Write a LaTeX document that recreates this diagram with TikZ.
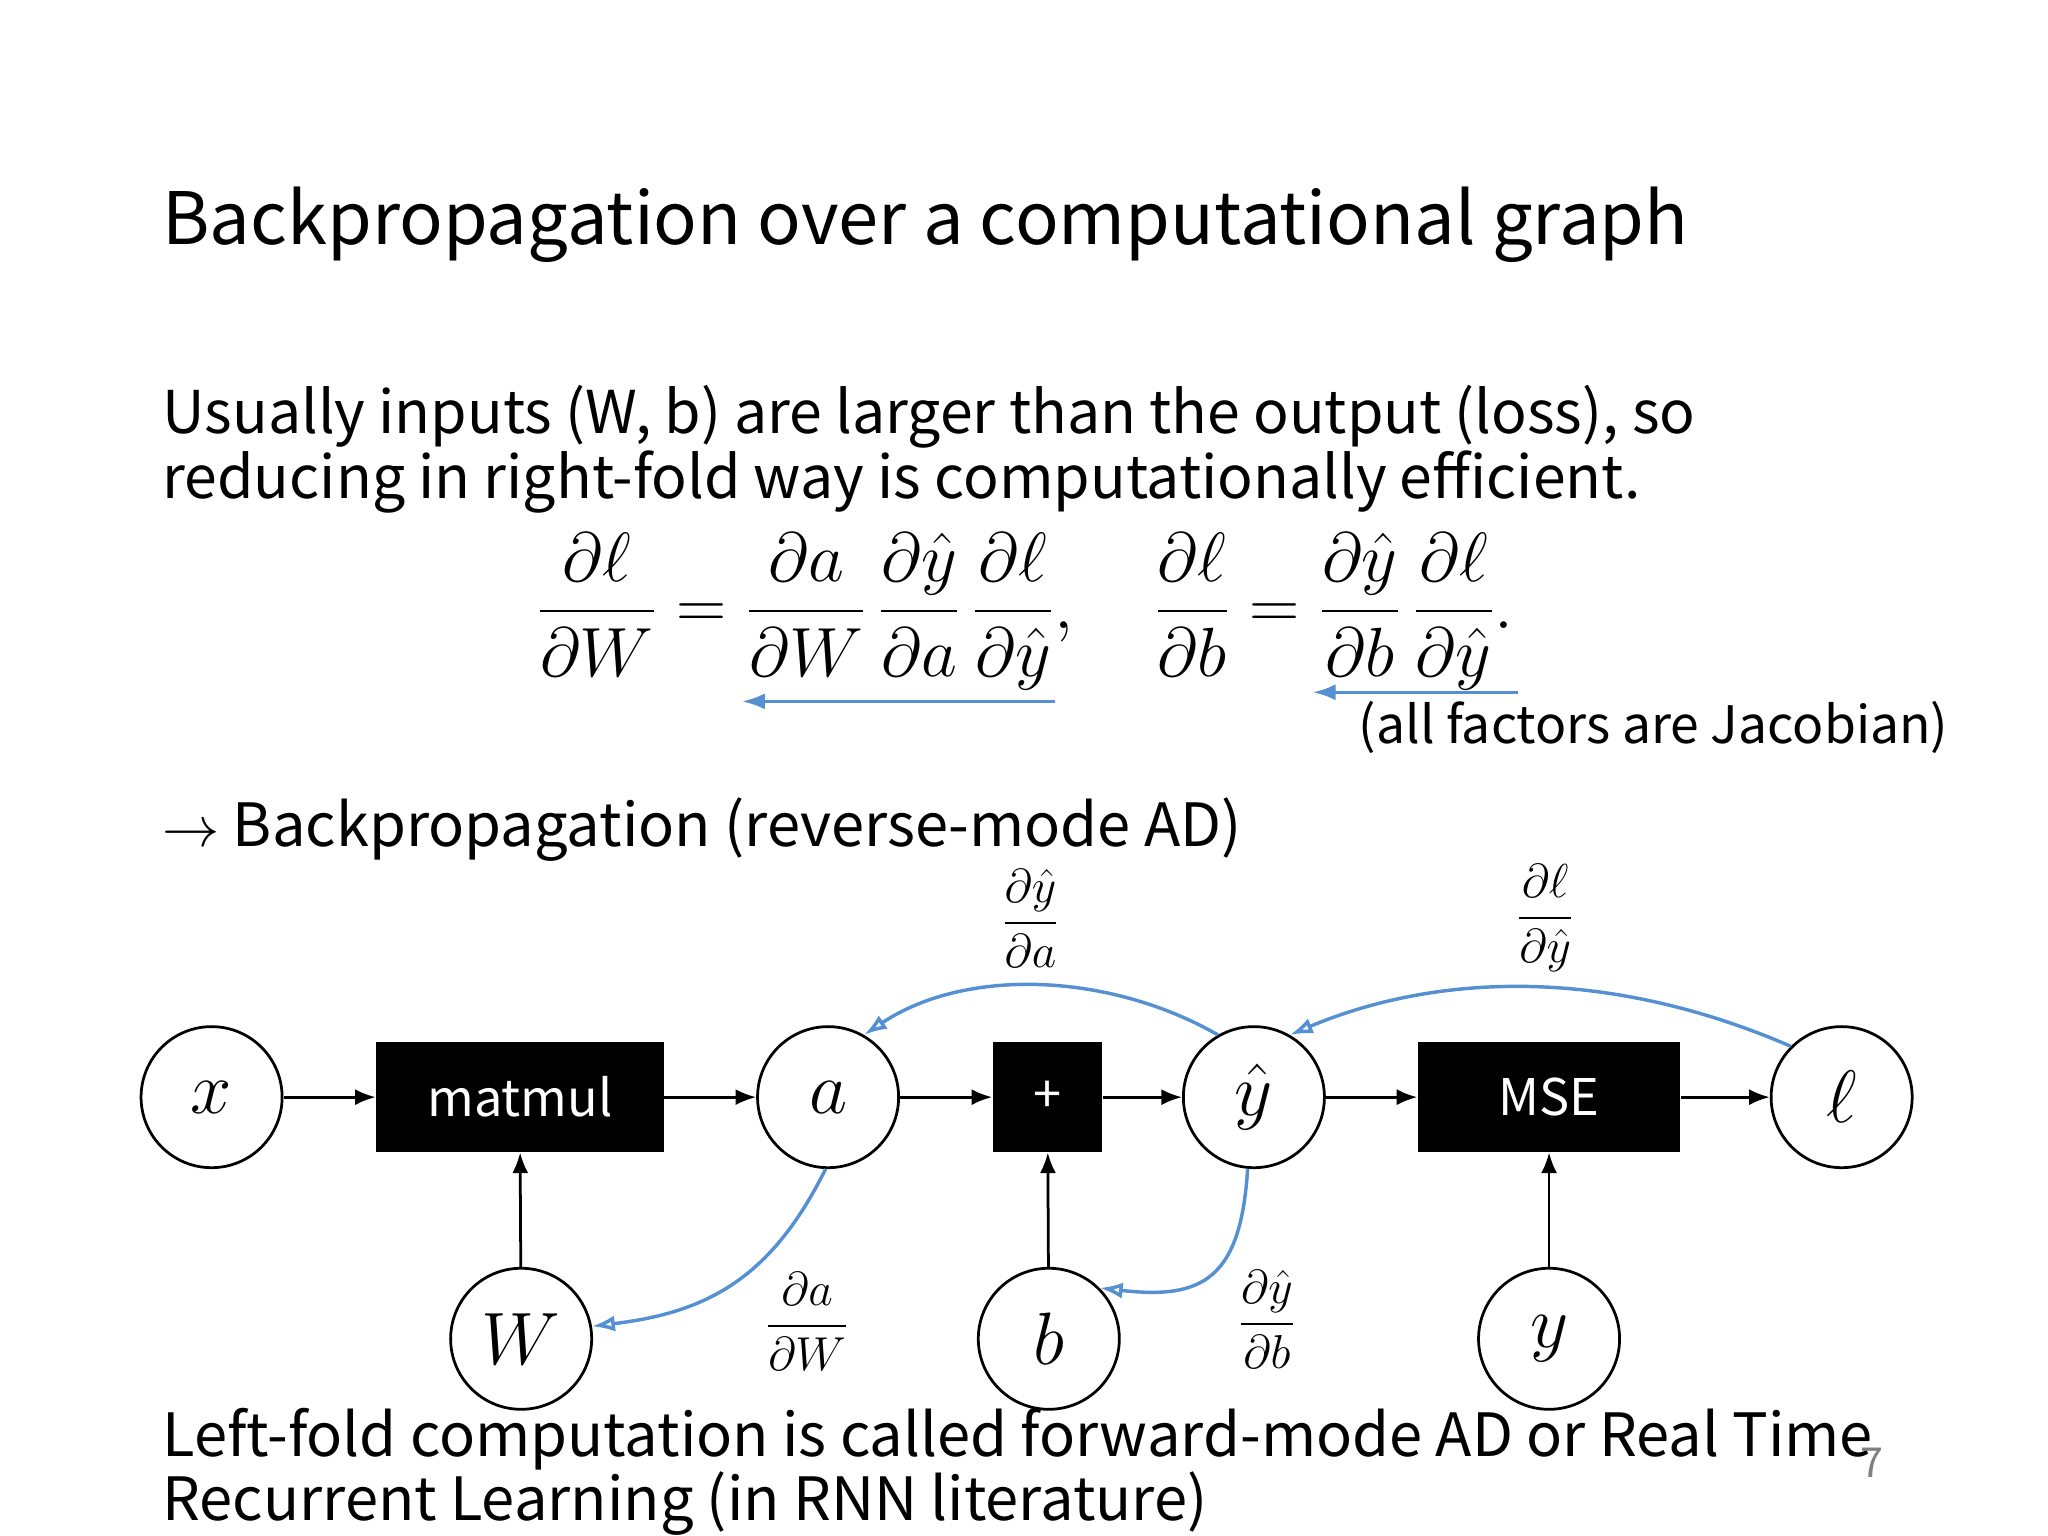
\documentclass[tikz,border=0pt]{standalone}
\usepackage{amsmath}
\usepackage{graphicx}
\usepackage{fontspec}
\setmainfont{Noto Sans CJK JP}
\usetikzlibrary{arrows.meta}
\definecolor{bl}{RGB}{85,145,210}
\newcommand{\nodemath}[1]{\scalebox{1.3}{$#1$}}
\begin{document}
\begin{tikzpicture}[x=0.02cm,y=-0.02cm,
  circ/.style={draw,circle,line width=1.2pt,minimum size=108*0.02cm,inner sep=0pt,font=\fontsize{24.88}{26}\selectfont},
  blk/.style={fill=black,text=white,minimum height=84*0.02cm,inner sep=0pt,font=\fontsize{22}{22}\selectfont},
  fw/.style={-{Latex[length=9pt,width=7pt]},line width=1.2pt},
  bw/.style={-{Latex[length=10pt,width=7pt,open]},line width=1.5pt,color=bl},
  lab/.style={font=\fontsize{20}{22}\selectfont},
  txt/.style={anchor=west,inner sep=0pt,font=\fontsize{26}{28}\selectfont}]
\useasboundingbox (0,0) rectangle (1568,1176);
\node[txt,font=\fontsize{31.5}{36}\selectfont] (title) at (124,172) {Backpropagation over a computational graph};
\node[txt,align=left,font=\fontsize{25.7}{27}\selectfont] (p1) at (124,344) {Usually inputs (W, b) are larger than the output (loss), so\\reducing in right-fold way is computationally efficient.};
\node[inner sep=0pt,font=\fontsize{24.88}{30}\selectfont] (eq) at (785,468) {\scalebox{1.22}{$\displaystyle \frac{\partial\ell}{\partial W}=\frac{\partial a}{\partial W}\,\frac{\partial\hat y}{\partial a}\,\frac{\partial\ell}{\partial\hat y},\quad \frac{\partial\ell}{\partial b}=\frac{\partial\hat y}{\partial b}\,\frac{\partial\ell}{\partial\hat y}.$}};
\coordinate (e1) at (808,537); \coordinate (e2) at (568,537);
\coordinate (e3) at (1162,530); \coordinate (e4) at (1005,530);
\draw[bw,-{Latex[length=10pt,width=7pt]}] (e1) -- (e2); \draw[bw,-{Latex[length=10pt,width=7pt]}] (e3) -- (e4);
\node[txt,font=\fontsize{22.5}{24}\selectfont] (jac) at (1040,557) {(all factors are Jacobian)};
\node[txt] (bp) at (124,635) {$\rightarrow$ Backpropagation (reverse-mode AD)};
\node[circ] (x) at (162,840) {\nodemath{x}};
\node[blk,minimum width=220*0.02cm] (mm) at (398,840) {matmul};
\node[circ] (a) at (634,840) {\nodemath{a}};
\node[blk,minimum width=84*0.02cm] (plus) at (802,840) {+};
\node[circ] (yh) at (960,840) {\nodemath{\hat y}};
\node[blk,minimum width=201*0.02cm] (mse) at (1186,840) {MSE};
\node[circ] (l) at (1410,840) {\nodemath{\ell}};
\node[circ] (W) at (399,1025) {\nodemath{W}};
\node[circ] (b) at (803,1025) {\nodemath{b}};
\node[circ] (y) at (1186,1025) {\nodemath{y}};
\draw[fw] (x) -- (mm); \draw[fw] (mm) -- (a); \draw[fw] (a) -- (plus);
\draw[fw] (plus) -- (yh); \draw[fw] (yh) -- (mse); \draw[fw] (mse) -- (l);
\draw[fw] (W) -- (mm); \draw[fw] (b) -- (plus); \draw[fw] (y) -- (mse);
\draw[bw] (yh.120) .. controls (850,745) and (740,740) .. (a.60);
\draw[bw] (l.135) .. controls (1230,740) and (1100,745) .. (yh.60);
\draw[bw] (a.268) .. controls (590,980) and (540,1005) .. (W.10);
\draw[bw] (yh.265) .. controls (950,980) and (920,995) .. (b.45);
\node[lab] (l1) at (789,703) {$\dfrac{\partial\hat y}{\partial a}$};
\node[lab] (l2) at (1183,703) {$\dfrac{\partial\ell}{\partial\hat y}$};
\node[lab] (l3) at (618,1012) {$\dfrac{\partial a}{\partial W}$};
\node[lab] (l4) at (970,1010) {$\dfrac{\partial\hat y}{\partial b}$};
\node[txt,align=left] (p2) at (124,1127) {Left-fold computation is called forward-mode AD or Real Time\\Recurrent Learning (in RNN literature)};
\node[font=\fontsize{18}{18}\selectfont,text=gray] (pg) at (1433,1120) {7};
\end{tikzpicture}
\end{document}
